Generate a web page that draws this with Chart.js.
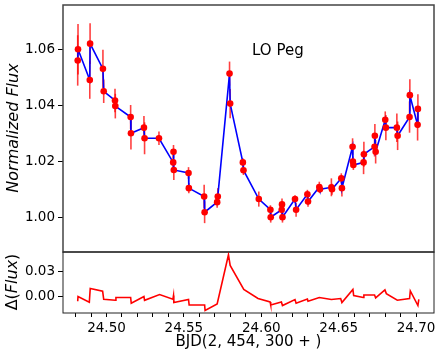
<!DOCTYPE html>
<html><head><meta charset="utf-8">
<script src="https://cdn.jsdelivr.net/npm/chart.js@4/dist/chart.umd.min.js"></script>
<style>
html,body{margin:0;padding:0;background:#fff;}
#wrap{position:relative;width:447px;height:356px;overflow:hidden;}
canvas{position:absolute;left:0;top:0;}
</style></head><body>
<div id="wrap"><canvas id="top" width="447" height="356"></canvas><canvas id="bot" width="447" height="356"></canvas></div>
<script>
// ---- data ----
const bjd = [24.4814,24.4816,24.4892,24.4894,24.4977,24.4982,24.5055,24.5057,24.5156,24.5158,
             24.5242,24.5246,24.5339,24.5431,24.5433,24.5435,24.5530,24.5532,24.5631,24.5634,
             24.5715,24.5719,24.5795,24.5799,24.5881,24.5885,24.5984,24.6059,24.6061,24.6132,
             24.6134,24.6137,24.6218,24.6225,24.6298,24.6302,24.6375,24.6379,24.6453,24.6457,
             24.6517,24.6521,24.6590,24.6592,24.6595,24.6661,24.6663,24.6732,24.6734,24.6739,
             24.6801,24.6805,24.6876,24.6881,24.6958,24.6960,24.7010,24.7012];
const flux = [1.0560,1.0600,1.0490,1.0620,1.0530,1.0450,1.0417,1.0397,1.0358,1.0300,
              1.0320,1.0282,1.0282,1.0196,1.0234,1.0169,1.0158,1.0104,1.0074,1.0018,
              1.0054,1.0074,1.0513,1.0406,1.0196,1.0168,1.0065,1.0027,1.0000,1.0027,
              1.0046,1.0000,1.0065,1.0027,1.0082,1.0056,1.0108,1.0100,1.0107,1.0100,
              1.0139,1.0104,1.0252,1.0199,1.0187,1.0196,1.0225,1.0252,1.0291,1.0234,
              1.0348,1.0320,1.0320,1.0291,1.0358,1.0436,1.0330,1.0387];
const fluxErr = [0.0090,0.0090,0.0067,0.0073,0.0068,0.0042,0.0042,0.0044,0.0043,0.0058,
                 0.0042,0.0057,0.0024,0.0030,0.0024,0.0036,0.0021,0.0018,0.0042,0.0039,
                 0.0020,0.0030,0.0043,0.0052,0.0015,0.0017,0.0027,0.0016,0.0019,0.0020,
                 0.0021,0.0019,0.0014,0.0025,0.0016,0.0018,0.0019,0.0014,0.0032,0.0020,
                 0.0018,0.0030,0.0030,0.0018,0.0018,0.0042,0.0045,0.0035,0.0042,0.0042,
                 0.0030,0.0045,0.0051,0.0051,0.0056,0.0057,0.0056,0.0052];
const resBjd = [24.4814,24.4816,24.4889,24.4895,24.4975,24.4982,24.5057,24.5061,24.5156,24.5160,
                24.5242,24.5246,24.5343,24.5429,24.5433,24.5435,24.5530,24.5534,24.5634,24.5637,
                24.5715,24.5788,24.5799,24.5887,24.5979,24.6057,24.6061,24.6130,24.6137,24.6218,
                24.6225,24.6298,24.6302,24.6375,24.6453,24.6513,24.6521,24.6592,24.6597,24.6659,
                24.6663,24.6732,24.6739,24.6799,24.6808,24.6879,24.6958,24.6963,24.7012,24.7018];
const resFlux = [-0.0052,0.0005,-0.0064,0.0101,0.0068,-0.0028,-0.0040,-0.0007,-0.0007,-0.0076,
                 0.0005,-0.0040,0.0029,-0.0028,0.0017,-0.0067,-0.0031,-0.0096,-0.0096,-0.0163,
                 -0.0084,0.0504,0.0377,0.0089,-0.0019,-0.0060,-0.0096,-0.0060,-0.0103,-0.0031,
                 -0.0076,-0.0024,-0.0052,-0.0007,-0.0031,-0.0019,-0.0067,0.0089,0.0017,-0.0007,
                 0.0024,0.0024,-0.0012,0.0084,0.0040,-0.0040,-0.0019,0.0072,-0.0103,-0.0028];
const fluxTicks = [1.00,1.02,1.04,1.06];
const resTicks = [0.00,0.03];
const bjdTicks = [24.48,24.49,24.50,24.51,24.52,24.53,24.54,24.55,24.56,24.57,24.58,
                  24.59,24.60,24.61,24.62,24.63,24.64,24.65,24.66,24.67,24.68,24.69,24.70];
const bjdLabels = [24.50,24.55,24.60,24.65,24.70];
const starName = 'LO Peg';

// ---- helpers ----
const FONT = "'DejaVu Sans'";
const X_MIN = 24.4719, X_MAX = 24.7116;
const pts = bjd.map((x,i)=>({x:x, y:flux[i]}));
const resPts = resBjd.map((x,i)=>({x:x, y:resFlux[i]}));

const errPlugin = {
  id:'errbars',
  beforeDatasetsDraw(chart){
    const {ctx, chartArea:a} = chart;
    const xs = chart.scales.x, ys = chart.scales.y;
    ctx.save();
    ctx.beginPath(); ctx.rect(a.left,a.top,a.right-a.left,a.bottom-a.top); ctx.clip();
    ctx.strokeStyle = 'rgba(255,0,0,0.75)';
    ctx.lineWidth = 1.6;
    bjd.forEach((x,i)=>{
      const px = xs.getPixelForValue(x);
      ctx.beginPath();
      ctx.moveTo(px, ys.getPixelForValue(flux[i]-fluxErr[i]));
      ctx.lineTo(px, ys.getPixelForValue(flux[i]+fluxErr[i]));
      ctx.stroke();
    });
    ctx.restore();
  }
};
function framePlugin(color, w){
  return {id:'frame', afterDraw(chart){
    const {ctx, chartArea:a} = chart;
    ctx.save(); ctx.strokeStyle=color; ctx.lineWidth=w;
    ctx.strokeRect(a.left, a.top, a.right-a.left, a.bottom-a.top);
    ctx.restore();
  }};
}
const topText = {id:'topText', afterDraw(chart){
  const ctx = chart.ctx; ctx.save();
  ctx.fillStyle='#000';
  ctx.font = `15px ${FONT}`; ctx.textAlign='left'; ctx.textBaseline='middle';
  ctx.fillText(starName, 252, 51);
  ctx.translate(14, 128); ctx.rotate(-Math.PI/2);
  ctx.font = `italic 16px ${FONT}`; ctx.textAlign='center';
  ctx.fillText('Normalized Flux', 0, 0);
  ctx.restore();
}};
const botText = {id:'botText', afterDraw(chart){
  const ctx = chart.ctx; ctx.save();
  ctx.fillStyle='#000'; ctx.textBaseline='middle';
  ctx.font = `15px ${FONT}`; ctx.textAlign='center';
  ctx.fillText('BJD(2, 454, 300 + )', 248.5, 342);
  ctx.translate(13, 282); ctx.rotate(-Math.PI/2);
  const parts = [['Δ(', `16px ${FONT}`], ['Flux', `italic 16px ${FONT}`], [')', `16px ${FONT}`]];
  let total = 0;
  parts.forEach(p=>{ ctx.font=p[1]; total += ctx.measureText(p[0]).width; });
  let x0 = -total/2; ctx.textAlign='left';
  parts.forEach(p=>{ ctx.font=p[1]; ctx.fillText(p[0], x0, 0); x0 += ctx.measureText(p[0]).width; });
  ctx.restore();
}};

const commonY = (ticksArr)=>({
  type:'linear',
  afterBuildTicks: s=>{ s.ticks = ticksArr.map(v=>({value:v})); },
  afterFit: s=>{ s.width = 63; s.paddingTop = 0; s.paddingBottom = 0; },
  grid:{drawOnChartArea:false, drawTicks:true, tickLength:5, color:'#000', lineWidth:1},
  border:{display:false},
  ticks:{font:{family:FONT, size:13.5}, color:'#000', padding:3, autoSkip:false,
         callback: v=>Number(v).toFixed(2)}
});

new Chart(document.getElementById('top'), {
  type:'scatter',
  data:{datasets:[
    {type:'scatter', data:pts, pointRadius:3.3, pointHoverRadius:3.3, backgroundColor:'#ff0000', borderWidth:0, order:0},
    {type:'line', data:pts, borderColor:'#0000ff', borderWidth:1.6, pointRadius:0, fill:false, tension:0, order:1}
  ]},
  options:{
    responsive:false, animation:false, devicePixelRatio:1,
    layout:{padding:{left:0, right:13, top:5, bottom:104}},
    plugins:{legend:{display:false}, tooltip:{enabled:false}},
    scales:{
      x:{type:'linear', min:X_MIN, max:X_MAX, display:false},
      y:Object.assign(commonY(fluxTicks), {min:0.9876, max:1.0758})
    }
  },
  plugins:[errPlugin, framePlugin('#444',1.5), topText]
});

new Chart(document.getElementById('bot'), {
  type:'scatter',
  data:{datasets:[
    {type:'line', data:resPts, borderColor:'#ff0000', borderWidth:1.6, pointRadius:0, fill:false, tension:0}
  ]},
  options:{
    responsive:false, animation:false, devicePixelRatio:1,
    layout:{padding:{left:0, right:13, top:252, bottom:0}},
    plugins:{legend:{display:false}, tooltip:{enabled:false}},
    scales:{
      x:{type:'linear', min:X_MIN, max:X_MAX,
         afterBuildTicks: s=>{ s.ticks = bjdTicks.map(v=>({value:v})); },
         afterFit: s=>{ s.height = 43; s.paddingLeft = 0; s.paddingRight = 0; },
         grid:{drawOnChartArea:false, drawTicks:true, tickLength:4, color:'#000', lineWidth:1},
         border:{display:false},
         ticks:{font:{family:FONT, size:13.5}, color:'#000', padding:3, autoSkip:false, maxRotation:0,
                callback: v=> bjdLabels.some(l=>Math.abs(l-v)<1e-6) ? Number(v).toFixed(2) : ''}
      },
      y:Object.assign(commonY(resTicks), {min:-0.0192, max:0.0537})
    }
  },
  plugins:[framePlugin('#222',1), botText]
});
</script>
</body></html>
